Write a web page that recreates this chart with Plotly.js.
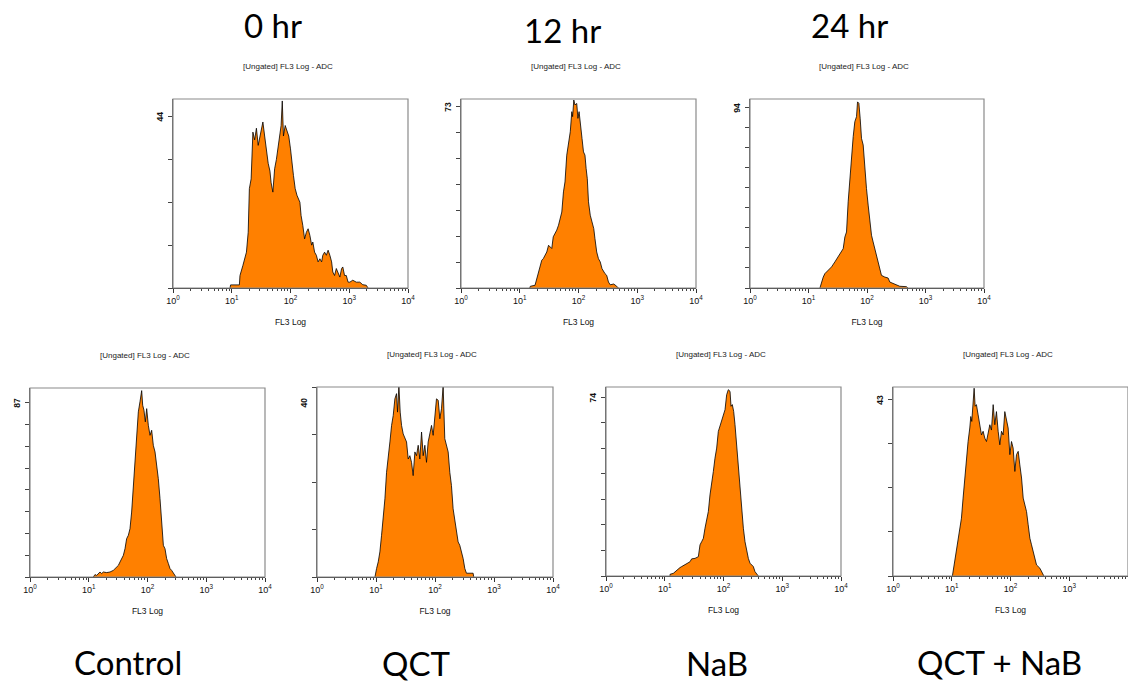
<!DOCTYPE html>
<html>
<head>
<meta charset="utf-8">
<script src="https://cdn.plot.ly/plotly-3.0.1.min.js"></script>
<style>
  html, body { margin: 0; padding: 0; background: #fff; }
  #chart { width: 1128px; height: 685px; }
</style>
</head>
<body>
<div id="chart"></div>
<script>
// ---------------- DATA (FL3 Log histograms, x in decades of FL3, y = counts) ----------------
const panelTitle = "[Ungated] FL3 Log - ADC";
const xAxisTitle = "FL3 Log";
const xTickLabels = ["10<sup>0</sup>", "10<sup>1</sup>", "10<sup>2</sup>", "10<sup>3</sup>", "10<sup>4</sup>"];
const timeLabels = ["0 hr", "12 hr", "24 hr"];
const treatLabels = ["Control", "QCT", "NaB", "QCT + NaB"];
const yTopLabels = [44, 73, 94, 87, 40, 74, 43];

// 0 hr
const hr0Decade = [0.97,0.98,1.13,1.14,1.19,1.25,1.28,1.30,1.33,1.36,1.39,1.42,1.45,1.48,1.50,1.53,1.56,1.59,1.62,1.65,1.67,1.70,1.73,1.76,1.79,1.82,1.84,1.86,1.88,1.91,1.94,1.97,2.00,2.03,2.05,2.08,2.11,2.16,2.18,2.21,2.24,2.27,2.30,2.33,2.36,2.38,2.41,2.44,2.47,2.50,2.53,2.55,2.58,2.61,2.64,2.67,2.70,2.72,2.75,2.78,2.81,2.84,2.87,2.89,2.92,2.95,2.98,3.01,3.06,3.12,3.18,3.23,3.29,3.32];
const hr0Count  = [0,0.8,0.8,3.2,5.8,9.2,14.3,25.5,28,40,38,41,36.6,39,41,42.6,39,35,32,30,27,24.6,30.6,33,36.6,39,41.7,48,39,41.7,40,39,35.7,30.6,28.9,25.5,23.8,22,18.6,16,12.6,14.3,15.2,13.5,11,11.8,9.2,8.4,6.7,7.5,6.7,8.4,9.2,8.4,9.7,8.4,6.7,4.1,3.2,5,3.7,2.8,5,5.4,3.2,3.2,1.5,1.5,2,1.5,1.5,0.85,0.7,0];

// 12 hr
const hr12Decade = [1.17,1.18,1.26,1.29,1.32,1.35,1.375,1.40,1.43,1.46,1.49,1.52,1.545,1.57,1.60,1.63,1.66,1.69,1.716,1.744,1.77,1.80,1.83,1.86,1.886,1.90,1.92,1.94,1.97,1.99,2.01,2.03,2.06,2.085,2.11,2.13,2.15,2.17,2.20,2.23,2.26,2.28,2.31,2.34,2.37,2.40,2.43,2.45,2.48,2.51,2.54,2.60,2.65,2.68];
const hr12Count  = [0,0.7,1.1,3.8,6.5,8.5,11.2,11.8,13.2,14.5,17.2,16.5,15.9,20.6,21.9,23.3,25.3,28,30.6,38.7,42.7,53.5,58.9,62.9,71,69,75.7,73.7,74.3,68.3,71,65.6,60.2,54.8,53.5,48.1,44,34.7,29.3,26.6,23.9,19.9,14.5,11.8,10.5,7.8,6.5,5.8,5.1,2.4,1.3,1.6,0.7,0];

// 24 hr
const hr24Decade = [1.195,1.223,1.252,1.28,1.337,1.394,1.451,1.508,1.565,1.593,1.622,1.65,1.678,1.707,1.735,1.764,1.792,1.821,1.838,1.861,1.883,1.906,1.935,1.963,1.991,2.02,2.048,2.077,2.105,2.134,2.162,2.19,2.219,2.247,2.304,2.361,2.39,2.447,2.504,2.56,2.674,2.70];
const hr24Count  = [0,3.1,5.7,7.5,9.2,11,13.6,16.2,18.8,20.5,26.6,29.2,44.9,57,69.3,78.9,86.7,89.3,97,96.3,88.5,78,74.5,62.3,51.9,43.2,34.5,27.5,24,20.5,17.1,13.6,10.1,6.6,5.7,5.2,3.1,2.3,1.4,0.9,0.7,0];

// Control
const ctrlDecade = [1.078,1.106,1.135,1.191,1.22,1.248,1.305,1.362,1.418,1.475,1.504,1.532,1.56,1.589,1.617,1.645,1.674,1.702,1.73,1.759,1.787,1.816,1.844,1.872,1.901,1.918,1.94,1.963,1.986,2.014,2.043,2.071,2.099,2.128,2.156,2.184,2.213,2.241,2.27,2.298,2.326,2.355,2.383,2.411,2.44,2.468,2.485];
const ctrlCount  = [0,1.2,0.8,2.5,1.7,2.5,2.2,2.5,3.3,5,5.8,7.5,9.2,10.8,14.1,19.1,20.8,24.1,32.4,44.1,57.4,69,82.4,87.4,93,85.7,83.2,77.4,84,75.7,70.7,73.2,65.7,62.4,55.7,49.1,39.1,29.1,15.8,14.1,9.2,6.7,4.2,3.3,2.2,1.2,0];

// QCT
const qctDecade = [0.982,0.993,1.01,1.038,1.066,1.094,1.123,1.151,1.179,1.207,1.236,1.264,1.292,1.32,1.348,1.365,1.388,1.41,1.433,1.461,1.489,1.518,1.546,1.574,1.602,1.63,1.659,1.687,1.715,1.743,1.772,1.8,1.828,1.856,1.884,1.913,1.941,1.969,1.997,2.025,2.054,2.082,2.11,2.138,2.166,2.195,2.223,2.251,2.279,2.307,2.336,2.364,2.392,2.42,2.449,2.477,2.505,2.533,2.646,2.657];
const qctCount  = [0,1.1,1.8,3.2,5.3,8.8,12.3,16.5,22.1,24.9,28.5,32,34.1,37.6,38.7,34.8,40.4,34.8,32,30.2,29.5,28.5,24.9,25.6,24.2,21.4,26.4,25.6,27.8,24.9,30.6,25.6,27.8,24.2,28.5,30.6,32,29.9,34.1,37.6,37.3,33.4,35.5,40.4,29.2,27.8,26.4,22.1,19.3,14.4,11.6,9.5,7.4,6.7,5.3,3.9,1.8,0.8,0.8,0];

// NaB
const nabDecade = [1.089,1.09,1.146,1.203,1.26,1.288,1.345,1.401,1.43,1.458,1.515,1.572,1.6,1.628,1.657,1.685,1.713,1.742,1.77,1.799,1.827,1.855,1.884,1.912,1.94,1.969,1.997,2.026,2.054,2.082,2.111,2.128,2.15,2.173,2.196,2.224,2.252,2.281,2.309,2.338,2.366,2.394,2.423,2.451,2.479,2.508,2.536,2.565,2.593];
const nabCount  = [0,0.7,1.1,2.5,3.5,3.9,4.6,5.3,5.9,7.1,7.3,8,12.9,14.2,15.6,19.8,23.9,26.7,33.6,37.8,43.3,48.8,53,59.9,62,64,66.8,68.9,75.1,77.2,76.5,70.3,71,68.2,62.7,54.4,43.3,35,26.7,19.8,14.2,10.1,7.3,5.3,4.6,3.9,1.8,0.7,0];

// QCT + NaB
const comboDecade = [1.011,1.023,1.051,1.08,1.108,1.136,1.165,1.193,1.222,1.25,1.278,1.307,1.324,1.341,1.364,1.381,1.398,1.42,1.449,1.477,1.506,1.534,1.563,1.591,1.619,1.648,1.676,1.705,1.733,1.761,1.79,1.818,1.847,1.875,1.903,1.932,1.96,1.989,2.017,2.045,2.074,2.102,2.131,2.159,2.188,2.216,2.244,2.273,2.301,2.33,2.358,2.386,2.415,2.443,2.5,2.528,2.557,2.568];
const comboCount  = [0,1.1,3.5,6.8,8.4,10.8,14.1,19,23.9,27.9,32.8,36.1,38.9,37.7,43.8,45.8,41.4,41.8,39.3,36.9,34.4,35.3,33.6,32.8,35.3,36.9,35.6,41.8,36.9,40.1,35.3,32,35.3,34.4,40.1,38.4,36.1,29.6,32.8,31.2,25.5,29.6,30.4,27.1,23.9,19,17.3,15.7,12.5,9.2,7.6,5.9,4.3,2.7,1.9,1.1,0.6,0];

// ---------------- LAYOUT CONFIG (pixel geometry) ----------------
const W = 1128, H = 685;
const panels = [
  {dec: hr0Decade,  cnt: hr0Count,  nTicks: 4, yTop: 48.5, box: [173, 408, 99, 288]},
  {dec: hr12Decade, cnt: hr12Count, nTicks: 7, yTop: 76.1, box: [461, 696, 99, 288]},
  {dec: hr24Decade, cnt: hr24Count, nTicks: 9, yTop: 98.5, box: [750, 984, 99, 288]},
  {dec: ctrlDecade, cnt: ctrlCount, nTicks: 8, yTop: 94.3, box: [30, 265, 388, 577]},
  {dec: qctDecade,  cnt: qctCount,  nTicks: 4, yTop: 40.1, box: [317, 553, 387, 577], labelDrop: 15},
  {dec: nabDecade,  cnt: nabCount,  nTicks: 7, yTop: 78.3, box: [606, 841, 387, 576]},
  {dec: comboDecade,cnt: comboCount,nTicks: 4, yTop: 46.1, box: [893, 1128, 387, 576]}
];

const minorVals = [];
for (let e = 0; e < 4; e++) for (let k = 2; k <= 9; k++) minorVals.push(k * Math.pow(10, e));

const traces = [];
const layout = {
  width: W, height: H,
  margin: {l: 0, r: 0, t: 0, b: 0, pad: 0},
  paper_bgcolor: "#ffffff", plot_bgcolor: "#ffffff",
  showlegend: false,
  annotations: [], shapes: []
};

const smallFont = {family: "Liberation Sans, Arial, sans-serif", size: 8, color: "#222"};

panels.forEach((p, i) => {
  const n = i + 1;
  const xk = n === 1 ? "xaxis" : "xaxis" + n;
  const yk = n === 1 ? "yaxis" : "yaxis" + n;
  const xr = n === 1 ? "x" : "x" + n;
  const yr = n === 1 ? "y" : "y" + n;
  const [l, r, t, b] = p.box;

  traces.push({
    type: "scatter", mode: "lines",
    x: p.dec.map(d => Math.pow(10, d)), y: p.cnt,
    fill: "tozeroy", fillcolor: "#FF8000",
    line: {color: "#000000", width: 0.8},
    xaxis: xr, yaxis: yr, hoverinfo: "skip"
  });

  const yTickVals = [];
  for (let k = 0; k <= p.nTicks; k++) yTickVals.push(yTopLabels[i] * k / p.nTicks);

  layout[xk] = {
    domain: [l / W, r / W], anchor: yr,
    type: "log", range: [0, 4], fixedrange: true,
    showgrid: false, zeroline: false,
    showline: true, linecolor: "#333", linewidth: 1,
    ticks: "outside", ticklen: 4, tickcolor: "#333", tickwidth: 1,
    tickvals: [1, 10, 100, 1000, 10000], ticktext: xTickLabels,
    tickfont: {family: "Liberation Sans, Arial, sans-serif", size: 9, color: "#111"},
    minor: {tickvals: minorVals, ticks: "outside", ticklen: 2, tickcolor: "#444", showgrid: false},
    title: {text: xAxisTitle, font: {family: "Liberation Sans, Arial, sans-serif", size: 8.5, color: "#111"}, standoff: 14}
  };
  layout[yk] = {
    domain: [1 - b / H, 1 - t / H], anchor: xr,
    range: [0, p.yTop], fixedrange: true,
    showgrid: false, zeroline: false,
    showline: true, linecolor: "#555", linewidth: 1,
    ticks: "outside", ticklen: 4, tickcolor: "#444", tickwidth: 1,
    tickvals: yTickVals, showticklabels: false
  };

  // plot frame
  layout.shapes.push({
    type: "rect", xref: xr + " domain", yref: yr + " domain",
    x0: 0, x1: 1, y0: 0, y1: 1,
    line: {color: "#8a8a8a", width: 1.2}, fillcolor: "rgba(0,0,0,0)", layer: "above"
  });

  // top y label (rotated)
  layout.annotations.push({
    text: "<b>" + yTopLabels[i] + "</b>",
    xref: xr + " domain", yref: yr,
    x: 0, y: yTopLabels[i], xshift: -13, yshift: -(p.labelDrop || 0),
    xanchor: "center", yanchor: "middle", textangle: -90,
    showarrow: false, font: {family: "Liberation Sans, Arial, sans-serif", size: 8.5, color: "#111"}
  });

  // panel title
  layout.annotations.push({
    text: panelTitle,
    xref: "paper", yref: "paper",
    x: ((l + r) / 2 - 3) / W, y: 1 - (t - 33) / H,
    xanchor: "center", yanchor: "middle",
    showarrow: false, font: smallFont
  });
});

// big labels
const bigFont = {family: "Lato, Carlito, Calibri, sans-serif", size: 33, color: "#000"};
const timeX = [273, 562, 849], timeY = [25, 30, 25];
timeLabels.forEach((s, i) => layout.annotations.push({
  text: s, xref: "paper", yref: "paper", x: timeX[i] / W, y: 1 - timeY[i] / H,
  xanchor: "center", yanchor: "middle", showarrow: false, font: bigFont
}));
const treatX = [128, 416, 717, 1000], treatY = [662, 663, 663, 662];
treatLabels.forEach((s, i) => layout.annotations.push({
  text: s, xref: "paper", yref: "paper", x: treatX[i] / W, y: 1 - treatY[i] / H,
  xanchor: "center", yanchor: "middle", showarrow: false, font: bigFont
}));

Plotly.newPlot("chart", traces, layout, {staticPlot: true, displayModeBar: false});
</script>
</body>
</html>
